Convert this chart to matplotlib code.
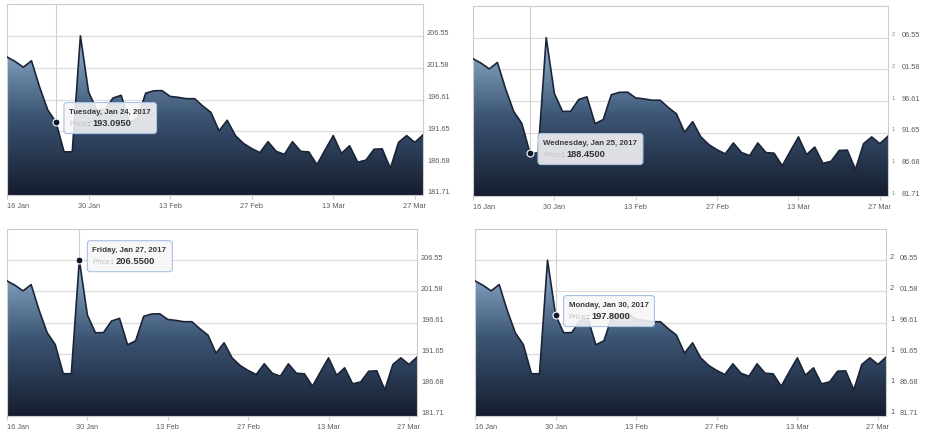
import matplotlib

matplotlib.use("Agg")
import matplotlib.pyplot as plt
import matplotlib.transforms as mtransforms
from matplotlib.colors import LinearSegmentedColormap
from matplotlib.patches import FancyBboxPatch
import numpy as np

# daily closing prices, one per trading day (16 Jan .. 28 Mar 2017)
prices = [
    203.25, 202.55, 201.65, 202.66, 198.55, 194.98, 193.095, 188.45, 188.45, 206.55,
    197.80, 194.98, 195.00, 196.85, 197.27, 193.06, 193.70, 197.60, 197.97, 198.00,
    197.10, 196.95, 196.74, 196.74, 195.60, 194.60, 191.73, 193.38, 190.98, 189.76,
    188.96, 188.32, 190.03, 188.53, 188.05, 190.03, 188.53, 188.43, 186.45, 188.75,
    190.98, 188.21, 189.39, 186.83, 187.15, 188.85, 188.91, 185.87, 189.92, 190.98,
    189.92, 191.09,
]
tick_pos = [0, 10, 20, 30, 40, 50]
tick_labels = ["16 Jan", "30 Jan", "13 Feb", "27 Feb", "13 Mar", "27 Mar"]
y_ticks = [181.71, 186.68, 191.65, 196.61, 201.58, 206.55]
y_top = 211.52

hover_idx = [6, 7, 9, 10]
hover_dates = ["Tuesday, Jan 24, 2017", "Wednesday, Jan 25, 2017",
               "Friday, Jan 27, 2017", "Monday, Jan 30, 2017"]
hover_prices = ["193.0950", "188.4500", "206.5500", "197.8000"]

W, H = 934, 431
# plot areas in pixels: left, top, right, bottom
panels = [(7, 5, 423, 196), (473, 7, 888, 197), (7, 230, 417, 417), (475, 230, 886, 417)]
split_labels = [False, True, False, True]

LINE = "#1b2437"
GRID = "#dcdcdc"
FRAME = "#cccccc"
TEXT = "#5c5c5c"
area_cmap = LinearSegmentedColormap.from_list("area", ["#151d2f", "#3c5574", "#95b5d4"])

plt.rcParams["font.family"] = ["Liberation Sans", "DejaVu Sans"]

fig = plt.figure(figsize=(W / 100, H / 100), dpi=100)
x = np.arange(len(prices))
y = np.array(prices)


def px(v):
    return v / 100.0


def draw_panel(i):
    left, top, right, bottom = panels[i]
    ax = fig.add_axes([left / W, 1 - bottom / H, (right - left) / W, (bottom - top) / H])

    # gradient area clipped to the series outline
    fill = ax.fill_between(x, y, y_ticks[0], facecolor="none", edgecolor="none")
    grad = np.linspace(0, 1, 256).reshape(-1, 1)
    im = ax.imshow(grad, cmap=area_cmap, origin="lower", aspect="auto",
                   extent=[x[0], x[-1], y_ticks[0], y.max()], zorder=2)
    im.set_clip_path(fill.get_paths()[0], transform=ax.transData)
    ax.plot(x, y, color=LINE, lw=1.2, zorder=4)

    ax.set_xlim(x[0], x[-1])
    ax.set_ylim(y_ticks[0], y_top)

    ax.set_yticks(y_ticks)
    ax.grid(axis="y", color=GRID, lw=0.9)
    ax.set_axisbelow(True)
    for s in ax.spines.values():
        s.set_color(FRAME)
        s.set_linewidth(0.8)

    ax.yaxis.tick_right()
    lift = mtransforms.ScaledTranslation(0, px(4), fig.dpi_scale_trans)
    if split_labels[i]:
        ax.set_yticklabels([f"{v:.2f}"[1:] for v in y_ticks])
        ax.tick_params(axis="y", length=0, pad=14 * 0.72, labelsize=5.3, labelcolor=TEXT)
        first = mtransforms.blended_transform_factory(ax.transAxes, ax.transData)
        first = first + mtransforms.ScaledTranslation(px(4), px(4), fig.dpi_scale_trans)
        small = i == 1
        for v in y_ticks:
            ax.text(1.0, v, f"{v:.2f}"[0], transform=first, ha="left", va="center",
                    fontsize=4.2 if small else 5.3, color="#888888" if small else TEXT)
    else:
        ax.set_yticklabels([f"{v:.2f}" for v in y_ticks])
        ax.tick_params(axis="y", length=0, pad=4 * 0.72, labelsize=5.3, labelcolor=TEXT)
    for lab in ax.get_yticklabels():
        lab.set_transform(lab.get_transform() + lift)

    ax.set_xticks(tick_pos, tick_labels)
    ax.tick_params(axis="x", length=3, color=FRAME, width=0.8, pad=2, labelsize=5.3, labelcolor=TEXT)
    ax.get_xticklabels()[0].set_ha("left")

    # hover state
    xi = hover_idx[i]
    yi = prices[xi]
    ax.axvline(xi, color="#cfcfcf", lw=0.8, zorder=1)
    ax.plot(xi, yi, "o", ms=5, mfc="#0f1727", mec="white", mew=0.8, zorder=5, clip_on=False)

    off = fig.dpi_scale_trans + mtransforms.ScaledTranslation(xi, yi, ax.transData)
    t_date = ax.text(px(13), px(10.5), hover_dates[i], transform=off, fontsize=5.7,
                     weight="bold", color="#3a3a3a", ha="left", va="center", zorder=7)
    t1 = ax.text(px(13), px(-4.5), "Price", transform=off, fontsize=5.7, color="#c6c6c6",
                 ha="left", va="bottom", zorder=7)
    t2 = ax.annotate(":", xy=(1, 0), xycoords=t1, fontsize=5.7, color="#3a3a3a",
                     ha="left", va="bottom", zorder=7)
    t3 = ax.annotate(hover_prices[i], xy=(1, 0), xycoords=t2, xytext=(2.2, 0),
                     textcoords="offset points", fontsize=6.7, weight="bold",
                     color="#333333", ha="left", va="bottom", zorder=7)
    return ax, off, xi, yi, t_date, t3


items = [draw_panel(i) for i in range(4)]

fig.canvas.draw()
renderer = fig.canvas.get_renderer()
for ax, off, xi, yi, t_date, t3 in items:
    mx = ax.transData.transform((xi, yi))[0]
    right = max(t_date.get_window_extent(renderer).x1, t3.get_window_extent(renderer).x1) + 6
    box = FancyBboxPatch((px(8), px(-11.5)), px(right - mx - 8), px(31),
                         boxstyle="round,pad=0,rounding_size=0.03", transform=off,
                         facecolor=(0.97, 0.97, 0.97, 0.88), edgecolor="#a9c2e6",
                         lw=0.8, zorder=6, clip_on=False)
    ax.add_patch(box)

fig.savefig("out.png", dpi=100)
